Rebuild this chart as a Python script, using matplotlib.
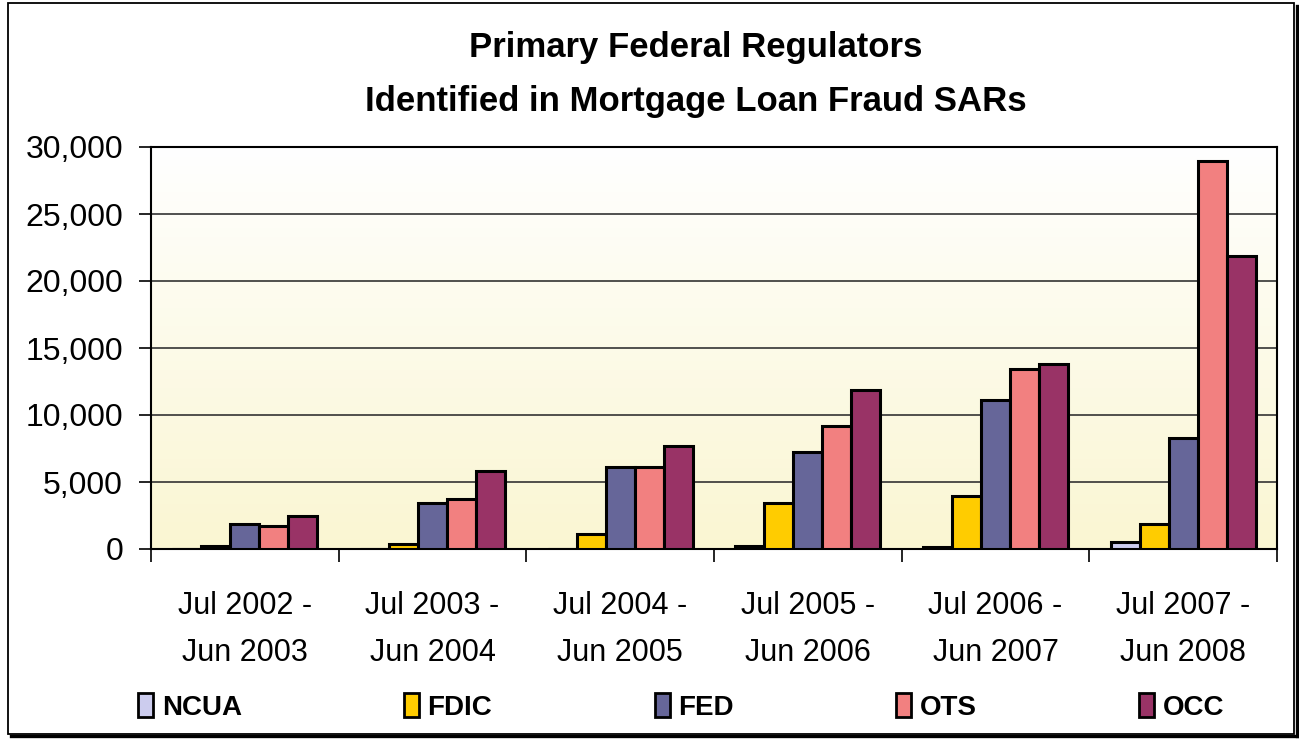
import numpy as np
import matplotlib
matplotlib.use("Agg")
import matplotlib.pyplot as plt
from matplotlib import font_manager
from matplotlib.patches import Rectangle, Patch
from matplotlib.lines import Line2D
from matplotlib.colors import LinearSegmentedColormap

periods = ["Jul 2002 -\nJun 2003", "Jul 2003 -\nJun 2004", "Jul 2004 -\nJun 2005",
           "Jul 2005 -\nJun 2006", "Jul 2006 -\nJun 2007", "Jul 2007 -\nJun 2008"]
regulators = ["NCUA", "FDIC", "FED", "OTS", "OCC"]
ncua = [0, 0, 0, 200, 150, 500]
fdic = [200, 400, 1150, 3450, 3950, 1900]
fed = [1900, 3450, 6150, 7250, 11100, 8250]
ots = [1700, 3700, 6150, 9200, 13400, 28950]
occ = [2500, 5800, 7700, 11900, 13800, 21850]
yticks = [0, 5000, 10000, 15000, 20000, 25000, 30000]
colors = ["#CCCCEE", "#FFCC00", "#666699", "#F28080", "#993366"]

names = {f.name for f in font_manager.fontManager.ttflist}
fam = "Liberation Sans Narrow" if "Liberation Sans Narrow" in names else "Liberation Sans"
plt.rcParams["font.family"] = [fam, "DejaVu Sans"]

W, H = 1299, 740
fig = plt.figure(figsize=(W / 100, H / 100), dpi=100, facecolor="white")

# outer frame with shadow on bottom/right
fig.patches.append(Rectangle((8 / W, 1 - 734 / H), 1286 / W, 731 / H,
                             transform=fig.transFigure, facecolor="none",
                             edgecolor="black", linewidth=1.3, zorder=0))
fig.lines.append(Line2D([11 / W, 1296.5 / W], [1 - 736 / H, 1 - 736 / H],
                        transform=fig.transFigure, color="black", linewidth=2.4))
fig.lines.append(Line2D([1296.5 / W, 1296.5 / W], [1 - 6 / H, 1 - 736 / H],
                        transform=fig.transFigure, color="black", linewidth=2.4))

ax = fig.add_axes([151 / W, 1 - 549 / H, (1277 - 151) / W, (549 - 147) / H], zorder=2)

# gradient background
cmap = LinearSegmentedColormap.from_list("bg", ["#FFFFFF", "#FAF6D2"])
grad = np.linspace(0, 1, 256).reshape(-1, 1)
ax.imshow(grad, aspect="auto", cmap=cmap, extent=(-0.5, 5.5, 0, 30000),
          origin="upper", zorder=0)

series = [ncua, fdic, fed, ots, occ]
x = np.arange(len(periods))
bw = 0.1545
for i, (vals, c, name) in enumerate(zip(series, colors, regulators)):
    ax.bar(x + (i - 2) * bw, vals, width=bw, color=c, edgecolor="black",
           linewidth=2.2, zorder=3, label=name)

ax.set_xlim(-0.5, 5.5)
ax.set_ylim(0, 30000)
ax.set_yticks(yticks)
ax.set_yticklabels([f"{v:,}" for v in yticks], fontsize=23)
ax.yaxis.grid(True, color="#333333", linewidth=1.2, zorder=1)
ax.set_axisbelow(True)
ax.set_xticks(x)
ax.set_xticklabels(periods, fontsize=22, linespacing=1.76)
ax.set_xticks(np.arange(-0.5, 6, 1), minor=True)
ax.tick_params(axis="x", which="major", length=0, pad=30)
ax.tick_params(axis="x", which="minor", length=9, width=1.2, direction="out")
ax.tick_params(axis="y", length=8.6, width=1.2, pad=11.5)
for s in ax.spines.values():
    s.set_linewidth(1.5)

fig.text(696 / W, 1 - 48 / H, "Primary Federal Regulators", ha="center", va="center",
         fontsize=25, fontweight="bold")
fig.text(696 / W, 1 - 101 / H, "Identified in Mortgage Loan Fraud SARs", ha="center",
         va="center", fontsize=25, fontweight="bold")

handles = [Patch(facecolor=c, edgecolor="black", linewidth=2) for c in colors]
fig.legend(handles, regulators, loc="center", ncol=5, mode="expand",
           bbox_to_anchor=(127 / W, 1 - 722 / H, (1235 - 127) / W, 30 / H),
           frameon=False, prop={"weight": "bold", "size": 20},
           handlelength=0.55, handleheight=0.9, handletextpad=0.3, borderaxespad=0)

fig.savefig("out.png", dpi=100)
